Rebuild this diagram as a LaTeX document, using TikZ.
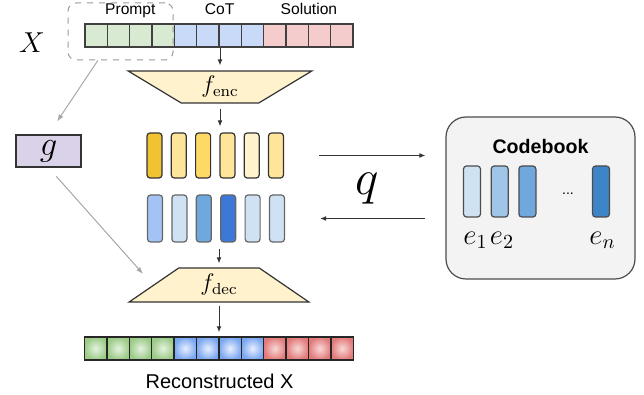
\documentclass[tikz,border=0pt]{standalone}
\usepackage{fontspec}
\setsansfont{Liberation Sans}
\usepackage{xcolor}
\usepackage{tikz}
\usetikzlibrary{arrows.meta, positioning, fit, shapes.geometric, calc}
\definecolor{vqseg0}{HTML}{D9EAD3}
\definecolor{vqseg1}{HTML}{C9DAF8}
\definecolor{vqseg2}{HTML}{F4CCCC}
\definecolor{recin0}{HTML}{E6F2E0}
\definecolor{recout0}{HTML}{9BCB87}
\definecolor{recin1}{HTML}{E8F0FE}
\definecolor{recout1}{HTML}{7BA7F0}
\definecolor{recin2}{HTML}{F8D8D8}
\definecolor{recout2}{HTML}{E27A7A}
\definecolor{vqcoder}{HTML}{FFF2CC}
\definecolor{vqgbox}{HTML}{D9D2E9}
\definecolor{vqbook}{HTML}{F3F3F3}
\definecolor{vqy0}{HTML}{F1C232}
\definecolor{vqy1}{HTML}{FFE599}
\definecolor{vqy2}{HTML}{FFD966}
\definecolor{vqy3}{HTML}{FFF2CC}
\definecolor{vqb0}{HTML}{A4C2F4}
\definecolor{vqb1}{HTML}{CFE2F3}
\definecolor{vqb2}{HTML}{6FA8DC}
\definecolor{vqb3}{HTML}{3C78D8}
\definecolor{vqb4}{HTML}{9FC5E8}
\definecolor{vqb5}{HTML}{3D85C6}
\tikzset{
  token_cell/.style={draw=black!75, minimum width=11.2pt, minimum height=11.5pt, inner sep=0pt, line width=0.6pt},
  recon_cell/.style={token_cell, draw=black!85, line width=0.7pt},
  seg_label/.style={font=\sffamily\fontsize{7.8}{9}\selectfont, text height=5.6pt, text depth=1.5pt, inner sep=1pt},
  prompt_box/.style={draw=black!40, dashed, rounded corners=4pt, line width=0.5pt, minimum width=52.5pt, minimum height=28.5pt},
  coder_box/.style={trapezium, trapezium left angle=40, trapezium right angle=40, trapezium stretches=true, draw=black!80, fill=vqcoder, inner sep=0pt, line width=0.6pt, font=\large},
  bar_code/.style={draw=black!80, rounded corners=1.5pt, minimum width=7.5pt, minimum height=22.5pt, inner sep=0pt, line width=0.6pt},
  bar_quant/.style={bar_code, draw=black!60, minimum height=23.5pt},
  bar_book/.style={bar_code, draw=black!70, minimum width=8.5pt, minimum height=25.5pt},
  g_box/.style={draw=black!80, fill=vqgbox, minimum width=32.5pt, minimum height=16pt, inner sep=0pt, line width=0.6pt, font=\LARGE},
  book_box/.style={draw=black!70, fill=vqbook, rounded corners=10pt, minimum width=94.5pt, minimum height=81pt, line width=0.6pt},
  dep_arrow/.style={draw=black!80, line width=0.5pt, -{Latex[length=3pt, width=2.4pt]}},
  side_arrow/.style={draw=black!35, line width=0.5pt, -{Latex[length=3.5pt, width=2.6pt]}}
}
\begin{document}
\begin{tikzpicture}[x=0.5pt, y=-0.5pt]
\useasboundingbox (0,0) rectangle (644,395);
% input sequence
\foreach \i in {1,...,12} {
  \pgfmathtruncatemacro{\seg}{(\i-1)/4}
  \node[token_cell, fill=vqseg\seg] (tok\i) at ({85+22.33*(\i-0.5)}, 35.5) {};
}
\node[seg_label, above=1.5pt of tok2.north east] (prompt_label) {Prompt};
\node[seg_label, above=1.5pt of tok6.north east] (cot_label) {CoT};
\node[seg_label, above=1.5pt of tok10.north east] (solution_label) {Solution};
\node[prompt_box] (pbox) at (120.5, 31.5) {};
\node[font=\Large] (x_label) at (32, 43) {$X$};
% encoder
\node[coder_box, shape border rotate=180, minimum width=92pt, minimum height=16pt] (enc) at (220, 87) {$f_{\mathrm{enc}}$};
\draw[dep_arrow, shorten >=2.5pt] (enc.north |- tok6.south) -- (enc.north);
% continuous and quantised codes
\foreach \i/\col in {1/vqy0, 2/vqy1, 3/vqy2, 4/vqy1, 5/vqy3, 6/vqy1} {
  \node[bar_code, fill=\col] (z\i) at ({154.5+24.3*(\i-1)}, 155.5) {};
}
\foreach \i/\col in {1/vqb0, 2/vqb1, 3/vqb2, 4/vqb3, 5/vqb1, 6/vqb1} {
  \node[bar_quant, fill=\col] (zq\i) at ({155+24.4*(\i-1)}, 218.5) {};
}
\draw[dep_arrow, shorten <=2.5pt, shorten >=3pt] (enc.south) -- (enc.south |- z4.north);
% codebook
\node[book_box] (codebook) at (540.5, 198) {};
\node[font=\sffamily\bfseries\fontsize{9.8}{11}\selectfont, text height=7pt, text depth=0pt, inner sep=1pt, below=10.25pt of codebook.north] (book_title) {Codebook};
\node[bar_book, fill=vqb1] (cb1) at (472, 191.5) {};
\node[bar_book, fill=vqb4, right=4.75pt of cb1] (cb2) {};
\node[bar_book, fill=vqb2, right=4.75pt of cb2] (cb3) {};
\node[bar_book, fill=vqb5] (cbn) at (601, 191.5) {};
\node[font=\sffamily\scriptsize] (cb_dots) at (568, 194) {...};
\node[font=\Large] (e1) at (475.5, 240) {$e_1$};
\node[font=\Large] (e2) at (502, 240) {$e_2$};
\node[font=\Large] (en) at (602.5, 240) {$e_n$};
\draw[dep_arrow, shorten <=17.5pt, shorten >=10pt] (z6.east) -- (z6.east -| codebook.west);
\draw[dep_arrow, shorten <=10pt, shorten >=17.5pt] (zq6.east -| codebook.west) -- (zq6.east);
\node[font=\Huge] (q_label) at (367, 189) {$q$};
% decoder
\node[coder_box, trapezium left angle=43, trapezium right angle=43, minimum width=90pt, minimum height=17pt] (dec) at (219, 285) {$f_{\mathrm{dec}}$};
\draw[dep_arrow, shorten <=3pt, shorten >=2pt] (dec.north |- zq4.south) -- (dec.north);
% prompt encoder g
\node[g_box] (g) at (48.5, 151) {$g$};
\draw[side_arrow, shorten >=7.8pt] ($(pbox.south west)!0.286!(pbox.south east)$) -- (g.north);
\draw[side_arrow, shorten <=5.9pt, shorten >=7.4pt] (g.south) -- (dec.west);
% reconstruction
\foreach \i in {1,...,12} {
  \pgfmathtruncatemacro{\seg}{(\i-1)/4}
  \node[recon_cell, inner color=recin\seg, outer color=recout\seg] (rec\i) at ({84.5+22.4*(\i-0.5)}, 348.5) {};
}
\draw[dep_arrow, shorten <=1.5pt, shorten >=2pt] (dec.south) -- (dec.south |- rec6.north);
\node[font=\sffamily\fontsize{10}{12}\selectfont, text height=7.2pt, text depth=0pt, inner sep=1pt, below=5.5pt of rec6.south east] (recon_label) {Reconstructed X};
\end{tikzpicture}
\end{document}
